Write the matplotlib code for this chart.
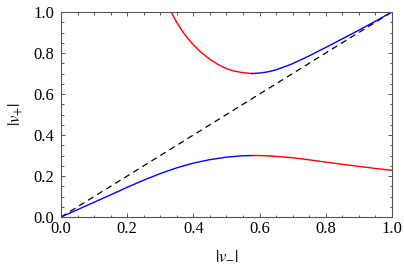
import matplotlib
matplotlib.use("Agg")
import matplotlib.pyplot as plt
from matplotlib.ticker import MultipleLocator

plt.rcParams['font.family'] = ['Liberation Serif', 'DejaVu Serif']
plt.rcParams['mathtext.fontset'] = 'stix'

# ---- data ----
# lower branch (|v+| below the diagonal)
low_x_blue = [0.0, 0.05, 0.10, 0.15, 0.20, 0.25, 0.30, 0.35, 0.40, 0.45, 0.50, 0.55, 0.577]
low_y_blue = [0.0, 0.036, 0.072, 0.108, 0.145, 0.180, 0.212, 0.240, 0.263, 0.280, 0.292, 0.299, 0.300]
low_x_red = [0.577, 0.60, 0.65, 0.70, 0.75, 0.80, 0.85, 0.90, 0.95, 1.0]
low_y_red = [0.300, 0.300, 0.296, 0.289, 0.279, 0.268, 0.257, 0.247, 0.237, 0.228]

# upper branch (|v+| above the diagonal)
up_x_red = [0.333, 0.34, 0.35, 0.36, 0.37, 0.385, 0.40, 0.42, 0.45, 0.48, 0.50, 0.52, 0.55, 0.577]
up_y_red = [1.0, 0.978, 0.949, 0.923, 0.899, 0.868, 0.840, 0.808, 0.769, 0.739, 0.724, 0.713, 0.704, 0.700]
up_x_blue = [0.577, 0.60, 0.625, 0.65, 0.70, 0.75, 0.80, 0.85, 0.90, 0.95, 1.0]
up_y_blue = [0.700, 0.702, 0.708, 0.718, 0.748, 0.786, 0.827, 0.869, 0.911, 0.955, 1.0]

diag = [0.0, 1.0]
ticks = [0.0, 0.2, 0.4, 0.6, 0.8, 1.0]
tick_labels = ["0.0", "0.2", "0.4", "0.6", "0.8", "1.0"]

fig = plt.figure(figsize=(4.04, 2.73), dpi=100)
ax = fig.add_axes([0.151, 0.205, 0.819, 0.751])

ax.plot(diag, diag, color='black', lw=0.9, dashes=(5, 3.5))
ax.plot(low_x_blue, low_y_blue, color='#0000ff', lw=1.0)
ax.plot(low_x_red, low_y_red, color='#ff0000', lw=1.0)
ax.plot(up_x_red, up_y_red, color='#ff0000', lw=1.0)
ax.plot(up_x_blue, up_y_blue, color='#0000ff', lw=1.0)

ax.set_xlim(0, 1)
ax.set_ylim(0, 1)
ax.set_xticks(ticks)
ax.set_xticklabels(tick_labels)
ax.set_yticks(ticks)
ax.set_yticklabels(tick_labels)
ax.xaxis.set_minor_locator(MultipleLocator(0.05))
ax.yaxis.set_minor_locator(MultipleLocator(0.05))

frame_col = '#555555'
for s in ax.spines.values():
    s.set_color(frame_col)
    s.set_linewidth(0.8)
ax.tick_params(which='both', direction='in', top=True, right=True, color=frame_col, width=0.7)
ax.tick_params(which='major', length=3.2, labelsize=12, pad=3)
ax.tick_params(which='minor', length=1.8)
ax.tick_params(axis='y', pad=5)

ax.set_xlabel(r'$|v_{-}|$', fontsize=12, labelpad=8)
ax.set_ylabel(r'$|v_{+}|$', fontsize=12, labelpad=6)

fig.savefig('out.png', dpi=100)
